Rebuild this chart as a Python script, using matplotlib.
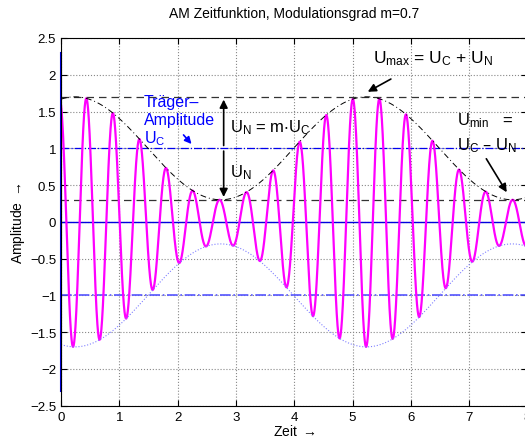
import matplotlib.pyplot as plt
import numpy as np

plt.rcParams['font.family'] = ['Liberation Sans', 'DejaVu Sans']
plt.rcParams['mathtext.default'] = 'regular'

# AM signal parameters
U_C = 1.0          # carrier amplitude
m = 0.7            # modulation index
T_N = 5.0          # period of the modulating signal
T_C = 0.457        # carrier period
t_env_peak = 0.24  # first envelope maximum
t_car_min = 0.206  # first carrier minimum
t_range = [0, 8]
y_range = [-2.5, 2.5]
x_ticks = [0, 1, 2, 3, 4, 5, 6, 7, 8]
y_ticks = [-2.5, -2, -1.5, -1, -0.5, 0, 0.5, 1, 1.5, 2, 2.5]

U_N = m * U_C
U_max = U_C + U_N
U_min = U_C - U_N

t = np.linspace(t_range[0], t_range[1], 4000)
env = U_C + U_N * np.cos(2 * np.pi / T_N * (t - t_env_peak))
u = -env * np.cos(2 * np.pi / T_C * (t - t_car_min))

fig = plt.figure(figsize=(5.25, 4.39), dpi=100)
ax = fig.add_axes([0.1162, 0.0736, 0.8884, 0.8376])

ax.axhline(U_max, color='#333333', ls=(0, (6, 4)), lw=0.9)
ax.axhline(U_min, color='#333333', ls=(0, (6, 4)), lw=0.9)
ax.axhline(U_C, color='#0000ee', ls='-.', lw=0.9)
ax.axhline(-U_C, color='#5555ff', ls='-.', lw=1.2)
ax.axhline(0, color='#0000dd', lw=1.0)
ax.plot([0, 0], [-2.3, 2.3], color='#0000dd', lw=1.5, clip_on=False)

ax.plot(t, u, color='#ff00ff', lw=1.6)
ax.plot(t, env, color='black', ls=(0, (6, 3, 1, 3)), lw=0.7)
ax.plot(t, -env, color='#8080ff', ls=':', lw=0.8)

ax.annotate('', xy=(2.79, U_max), xytext=(2.79, U_C),
            arrowprops=dict(arrowstyle='-|>', color='black', lw=1.2, mutation_scale=12))
ax.annotate('', xy=(2.79, U_min), xytext=(2.79, U_C),
            arrowprops=dict(arrowstyle='-|>', color='black', lw=1.2, mutation_scale=12))
ax.text(2.9, 1.3, r'$U_N$ = m$\cdot U_C$', fontsize=12, va='center')
ax.text(2.9, 0.68, r'$U_N$', fontsize=12, va='center')

ax.text(1.42, 1.64, 'Träger–', color='#0000ff', fontsize=11.5, va='center')
ax.text(1.42, 1.39, 'Amplitude', color='#0000ff', fontsize=11.5, va='center')
ax.text(1.42, 1.15, r'$U_C$', color='#0000ff', fontsize=11.5, va='center')
ax.annotate('', xy=(2.27, 1.03), xytext=(2.07, 1.21),
            arrowprops=dict(arrowstyle='-|>', color='#0000ff', lw=1.2, mutation_scale=10))

ax.text(5.36, 2.23, r'$U_{max}$ = $U_C$ + $U_N$', fontsize=12.5, va='center')
ax.annotate('', xy=(5.22, 1.75), xytext=(5.7, 1.96),
            arrowprops=dict(arrowstyle='-|>', color='black', lw=1.2, mutation_scale=12))

ax.text(6.8, 1.39, r'$U_{min}$   =', fontsize=12, va='center')
ax.text(6.8, 1.05, r'$U_C$ – $U_N$', fontsize=12, va='center')
ax.annotate('', xy=(7.67, 0.37), xytext=(7.27, 0.89),
            arrowprops=dict(arrowstyle='-|>', color='black', lw=1.2, mutation_scale=12))

ax.set_xlim(t_range)
ax.set_ylim(y_range)
ax.set_xticks(x_ticks)
ax.set_yticks(y_ticks)
ax.set_yticklabels([('%g' % v).replace('-', '−') for v in y_ticks])
ax.tick_params(direction='in', labelsize=9.5, top=True, right=True, length=4)
ax.grid(True, ls=':', color='#888888', lw=0.8)
ax.set_title('AM Zeitfunktion, Modulationsgrad m=0.7', fontsize=10, pad=15)
ax.set_xlabel(r'Zeit $\rightarrow$', fontsize=10, labelpad=0)
ax.set_ylabel(r'Amplitude $\rightarrow$', fontsize=10, labelpad=2)

fig.savefig('out.png', dpi=100)
